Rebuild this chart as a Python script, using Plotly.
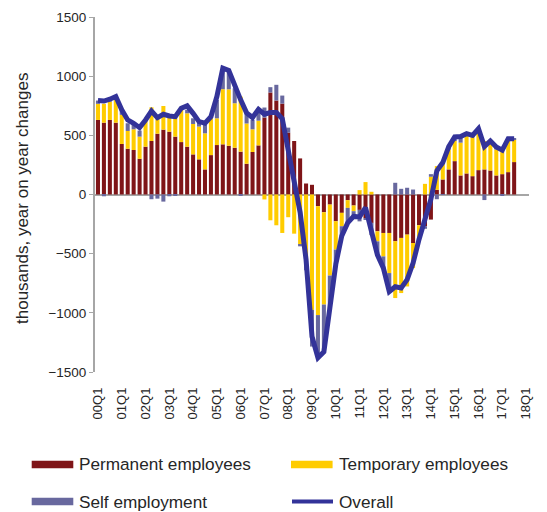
import plotly.graph_objects as go

# Category labels: 2000Q1 .. 2018Q1 (data through 2017Q3)
quarters = [f"{y:02d}Q{q}" for y in range(0, 18) for q in range(1, 5)] + ["18Q1"]
tick_labels = quarters[::4]

permanent = [630, 607, 630, 607, 427, 387, 376, 302, 404, 452,
             514, 548, 531, 489, 443, 404, 339, 297, 212, 333,
             418, 424, 412, 395, 362, 260, 359, 415, 650, 862,
             794, 768, 523, 452, 305, 93, 82, -99, -150, -85,
             -226, -155, -48, -93, -130, -200, -240, -311, -325, -325,
             -395, -367, -339, -410, -260, -268, -212, 40, 127, 212,
             282, 161, 178, 155, 206, 212, 203, 161, 172, 189,
             274]

temporary = [136, 160, 155, 192, 246, 150, 175, 187, 220, 285,
             150, 200, 127, 170, 271, 282, 257, 277, 305, 311,
             226, 466, 477, 376, 466, 340, 192, 209, -42, -218,
             -260, -325, -192, -331, -424, -560, -975, -920, -780, -600,
             -240, -113, -65, -48, 37, 105, 23, -85, -198, -339,
             -480, -466, -438, -212, -120, 90, 150, 200, 147, 169,
             170, 277, 331, 339, 317, 240, 241, 220, 209, 263,
             192]

self_employment = [28, -15, 20, 29, 42, 65, 45, 51, 0, -40,
                   -35, -60, -15, -10, 0, 30, 48, 34, 85, 0,
                   155, 164, 150, 127, -10, 90, 79, 105, 85, 45,
                   133, 68, 42, 0, -14, -80, -310, -360, -400, -280,
                   -124, -82, -127, -44, -97, -15, -103, -114, -97, -156,
                   99, 48, 57, 42, 0, -22, 22, -40, -4, 24,
                   34, 52, 5, 6, 33, -47, 8, 20, -6, 20,
                   6]

overall = [794, 790, 805, 828, 715, 630, 602, 565, 630, 706,
           650, 678, 664, 658, 729, 749, 686, 616, 602, 658,
           828, 1068, 1048, 912, 800, 690, 650, 720, 678, 692,
           692, 640, 400, 110, -150, -550, -1200, -1380, -1330, -960,
           -590, -350, -240, -185, -190, -110, -320, -510, -620, -820,
           -780, -790, -720, -580, -380, -200, -40, 200, 270, 405,
           486, 490, 514, 500, 556, 405, 452, 401, 375, 472,
           472]

series_names = ["Permanent employees", "Temporary employees", "Self employment", "Overall"]
colors = ["#7F1518", "#FFCC00", "#68689E", "#333399"]

x_data = quarters[:len(overall)]

fig = go.Figure()
for name, vals, col in zip(series_names[:3], [permanent, temporary, self_employment], colors[:3]):
    fig.add_trace(go.Bar(x=x_data, y=vals, name=name, marker=dict(color=col, line=dict(width=0)),
                         showlegend=False))
fig.add_trace(go.Scatter(x=x_data, y=overall, name=series_names[3], mode="lines",
                         line=dict(color=colors[3], width=5), showlegend=False))

# the page body adds an 8px offset; size the figure so it fits the 547x512 window
OFF = 8
W, H = 547 - OFF, 512 - OFF
L, R, T, B = 95 - OFF, 18, 17 - OFF, 140
pw, ph = W - L - R, H - T - B

def px(x):
    # window pixel x -> paper coordinate
    return (x - OFF - L) / pw

def py(y):
    # window pixel y -> paper coordinate
    return (H - B - (y - OFF)) / ph

font_family = "Liberation Sans, Arial, sans-serif"
text_col = "#262626"

fig.update_layout(
    width=W, height=H,
    margin=dict(l=L, r=R, t=T, b=B, autoexpand=False),
    barmode="relative", bargap=0.32,
    plot_bgcolor="white", paper_bgcolor="white",
    font=dict(family=font_family, color=text_col),
    showlegend=False,
)
fig.update_xaxes(
    type="category", categoryorder="array", categoryarray=quarters,
    range=[-0.5, len(quarters) - 0.5],
    tickmode="array", tickvals=tick_labels, ticktext=tick_labels,
    tickangle=-90, tickfont=dict(size=13, color=text_col),
    showgrid=False, showline=False, zeroline=False, ticks="",
    ticklabelstandoff=12,
)
fig.update_yaxes(
    range=[-1500, 1500], dtick=500, tick0=0,
    showgrid=False, zeroline=True, zerolinecolor="#A6A6A6", zerolinewidth=2,
    showline=True, linecolor="#A6A6A6", linewidth=2,
    ticks="outside", ticklen=4, tickcolor="#A6A6A6",
    tickfont=dict(size=13.5, color=text_col),
)

annotations = [dict(text="thousands, year on year changes", textangle=-90,
                    x=px(22), y=py(199), xref="paper", yref="paper",
                    xanchor="center", yanchor="middle", showarrow=False,
                    font=dict(size=17, color=text_col))]

# Legend (drawn manually to match wide swatches)
leg = [("Permanent employees", colors[0], 31.7, 464.5, "bar"),
       ("Temporary employees", colors[1], 291, 464.5, "bar"),
       ("Self employment", colors[2], 31.7, 501.5, "bar"),
       ("Overall", colors[3], 291, 501.5, "line")]
shapes = []
for name, col, x0, yc, kind in leg:
    if kind == "bar":
        shapes.append(dict(type="rect", xref="paper", yref="paper",
                           x0=px(x0), x1=px(x0 + 41.6), y0=py(yc + 3.8), y1=py(yc - 3.8),
                           fillcolor=col, line=dict(width=0)))
    else:
        shapes.append(dict(type="line", xref="paper", yref="paper",
                           x0=px(x0 + 1), x1=px(x0 + 42), y0=py(yc), y1=py(yc),
                           line=dict(color=col, width=4)))
    annotations.append(dict(text=name, x=px(x0 + 45.5), y=py(yc), xref="paper", yref="paper",
                            xanchor="left", yanchor="middle", showarrow=False,
                            font=dict(size=17.2, color=text_col)))

fig.update_layout(annotations=annotations, shapes=shapes)
fig.write_html("out.html")
